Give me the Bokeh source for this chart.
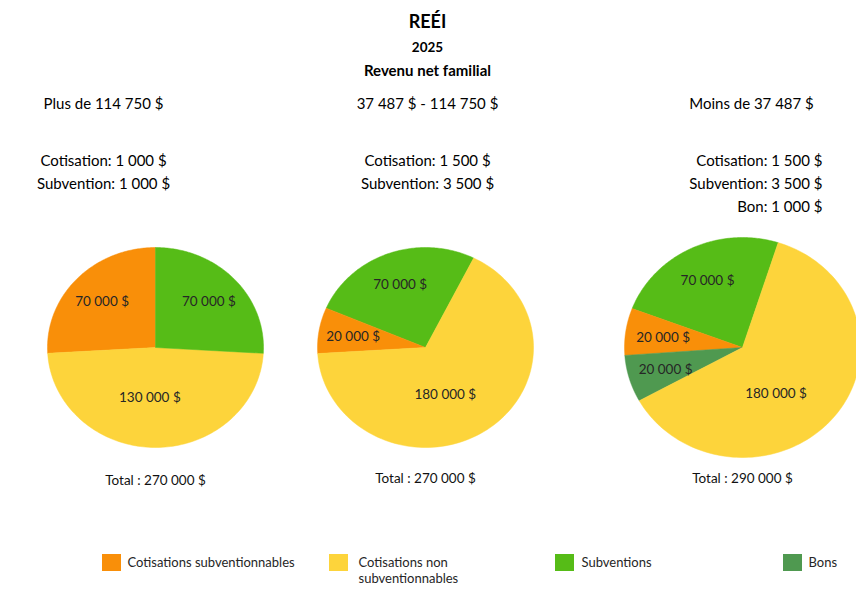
import numpy as np
from bokeh.plotting import figure
from bokeh.models import Range1d, ColumnDataSource
from bokeh.core.properties import value
from bokeh.embed import file_html
from bokeh.resources import INLINE

# ---------------- data ----------------
title = "REÉI"
subtitle_year = "2025"
subtitle = "Revenu net familial"

categories = ["Cotisations subventionnables", "Cotisations non subventionnables", "Subventions", "Bons"]
cat_colors = ["#F98F09", "#FDD43B", "#56BC17", "#4F9950"]

group_labels = ["Plus de 114 750 $", "37 487 $ - 114 750 $", "Moins de 37 487 $"]
group_notes = [
    ["Cotisation: 1 000 $", "Subvention: 1 000 $"],
    ["Cotisation: 1 500 $", "Subvention: 3 500 $"],
    ["Cotisation: 1 500 $", "Subvention: 3 500 $", "Bon: 1 000 $"],
]

# slices per pie (category index, value), drawn counter-clockwise from start angle
pie1_cats = [0, 1, 2]
pie1_vals = [70000, 130000, 70000]
pie2_cats = [2, 0, 1]
pie2_vals = [70000, 20000, 180000]
pie3_cats = [2, 0, 3, 1]
pie3_vals = [70000, 20000, 20000, 180000]
totals = ["Total : 270 000 $", "Total : 270 000 $", "Total : 290 000 $"]

# ---------------- layout / style ----------------
W, H = 856, 585
FONT = "Lato"
pies = [
    dict(cats=pie1_cats, vals=pie1_vals, cx=155, cy=347, rx=108, ry=100, start=90.0, ty=479, shift=6),
    dict(cats=pie2_cats, vals=pie2_vals, cx=425, cy=347, rx=108, ry=100, start=63.5, ty=477, shift=12),
    dict(cats=pie3_cats, vals=pie3_vals, cx=742, cy=347, rx=118, ry=110, start=72.4, ty=477, shift=16),
]

p = figure(width=W, height=H, output_backend="svg", toolbar_location=None,
           x_range=Range1d(0, W), y_range=Range1d(H, 0),
           min_border=0)
p.axis.visible = False
p.grid.visible = False
p.outline_line_color = None
p.background_fill_color = "white"
p.border_fill_color = "white"


def fmt(v):
    return f"{v:,}".replace(",", " ") + " $"


for k, pie in enumerate(pies):
    vals = np.array(pie["vals"], dtype=float)
    angs = vals / vals.sum() * 360.0
    edges = pie["start"] + np.concatenate([[0], np.cumsum(angs)])
    xs, ys, cols = [], [], []
    lx, ly, lt = [], [], []
    for i, c in enumerate(pie["cats"]):
        a = np.radians(np.linspace(edges[i], edges[i + 1], 120))
        px = np.concatenate([[pie["cx"]], pie["cx"] + pie["rx"] * np.cos(a)])
        py = np.concatenate([[pie["cy"]], pie["cy"] - pie["ry"] * np.sin(a)])
        xs.append(list(px)); ys.append(list(py)); cols.append(cat_colors[c])
        big = angs[i] > 150
        mid = (edges[i] + edges[i + 1]) / 2 - (pie["shift"] if big else 0)
        r = 0.5 if big else 0.68
        lx.append(pie["cx"] + r * pie["rx"] * np.cos(np.radians(mid)))
        ly.append(pie["cy"] - r * pie["ry"] * np.sin(np.radians(mid)))
        lt.append(fmt(int(pie["vals"][i])))
    src = ColumnDataSource(dict(xs=xs, ys=ys, color=cols))
    p.patches("xs", "ys", source=src, fill_color="color", line_color="color", line_width=0.5)
    p.text(lx, ly, text=lt, text_font=value(FONT), text_font_size="13.5px",
           text_color="#262626", text_align="center", text_baseline="middle")
    p.text([pie["cx"]], [pie["ty"]], text=[totals[k]], text_font=value(FONT),
           text_font_size="13.5px", text_color="#111111", text_align="center", text_baseline="middle")

# titles
p.text([427], [20], text=[title], text_font=value(FONT), text_font_size="18px",
       text_font_style="bold", text_color="#000000", text_align="center", text_baseline="middle")
p.text([427], [46], text=[subtitle_year], text_font=value(FONT), text_font_size="13.5px",
       text_font_style="bold", text_color="#000000", text_align="center", text_baseline="middle")
p.text([427], [69], text=[subtitle], text_font=value(FONT), text_font_size="15px",
       text_font_style="bold", text_color="#000000", text_align="center", text_baseline="middle")

# group headers
head_x = [103, 427, 751]
for gx, lab in zip(head_x, group_labels):
    p.text([gx], [102], text=[lab], text_font=value(FONT), text_font_size="15px",
           text_color="#000000", text_align="center", text_baseline="middle")

note_y = [159, 182, 205]
for gi, notes in enumerate(group_notes):
    for ni, n in enumerate(notes):
        if gi < 2:
            p.text([head_x[gi]], [note_y[ni]], text=[n], text_font=value(FONT), text_font_size="15px",
                   text_color="#000000", text_align="center", text_baseline="middle")
        else:
            p.text([822], [note_y[ni]], text=[n], text_font=value(FONT), text_font_size="15px",
                   text_color="#000000", text_align="right", text_baseline="middle")

# legend
leg_x = [111, 338, 564, 792]
leg_text_x = [127, 358, 581, 808]
p.rect(leg_x, [562] * 4, width=19, height=17, fill_color=cat_colors, line_color=None)
leg_lines = [["Cotisations subventionnables"], ["Cotisations non", "subventionnables"],
             ["Subventions"], ["Bons"]]
for tx, lines in zip(leg_text_x, leg_lines):
    for li, t in enumerate(lines):
        p.text([tx], [561 + li * 16], text=[t], text_font=value(FONT), text_font_size="13px",
               text_color="#262626", text_align="left", text_baseline="middle")

open("out.html", "w").write(file_html(p, INLINE))
